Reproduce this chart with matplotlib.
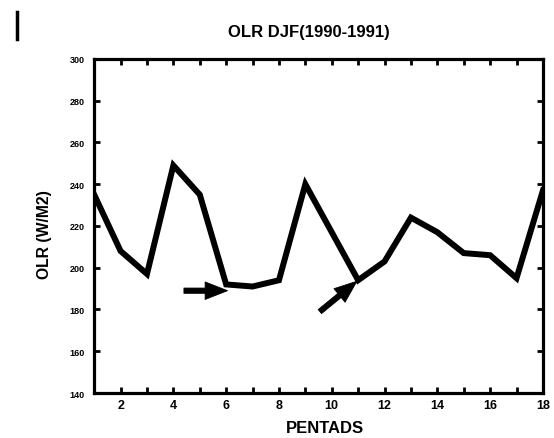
import matplotlib.pyplot as plt
import numpy as np

plt.rcParams['font.family'] = ['Liberation Sans', 'DejaVu Sans']

# OLR per pentad, DJF 1990-1991
pentads = np.arange(1, 19)
olr = [235, 208, 197, 249, 235, 192, 191, 194, 240,
       217, 194, 203, 224, 217, 207, 206, 195, 237]

# arrows drawn on the chart (tail -> head)
arrow_tails = [(4.4, 189), (9.55, 179)]
arrow_heads = [(6.05, 189), (10.95, 193.5)]

fig = plt.figure(figsize=(5.54, 4.39), dpi=100)
ax = fig.add_axes([0.170, 0.1025, 0.810, 0.761])

ax.plot(pentads, olr, color='black', lw=4.3, solid_joinstyle='miter')

for tail, head in zip(arrow_tails, arrow_heads):
    ax.annotate('', xy=head, xytext=tail,
                arrowprops=dict(arrowstyle='simple,head_length=1.15,head_width=0.9,tail_width=0.27',
                                lw=0.6, fc='black', ec='black', mutation_scale=14,
                                shrinkA=0, shrinkB=0))

ax.set_xlim(1, 18)
ax.set_ylim(140, 300)
ax.set_xticks(np.arange(1, 19))
ax.set_xticklabels([str(p) if p % 2 == 0 else '' for p in pentads],
                   fontsize=9, fontweight='bold')
ax.set_yticks(np.arange(140, 301, 20))
ax.set_yticklabels([str(v) for v in range(140, 301, 20)],
                   fontsize=6.5, fontweight='bold')
ax.tick_params(direction='in', length=4, width=2, top=True, right=True)
ax.tick_params(axis='y', pad=7)
ax.tick_params(axis='x', pad=4)
for s in ax.spines.values():
    s.set_linewidth(2.3)

ax.set_xlabel('PENTADS', fontsize=12, fontweight='bold')
ax.xaxis.set_label_coords(0.515, -0.08)
ax.set_ylabel('OLR (W/M2)', fontsize=11.3, fontweight='bold')
ax.yaxis.set_label_coords(-0.0935, 0.476)
fig.text(0.558, 0.925, 'OLR DJF(1990-1991)', ha='center', va='center',
         fontsize=12, fontweight='bold')
fig.add_artist(plt.Line2D([17 / 554, 17 / 554], [1 - 13 / 439, 1 - 40 / 439],
                          color='black', lw=2.5))

fig.savefig('out.png', dpi=100)
